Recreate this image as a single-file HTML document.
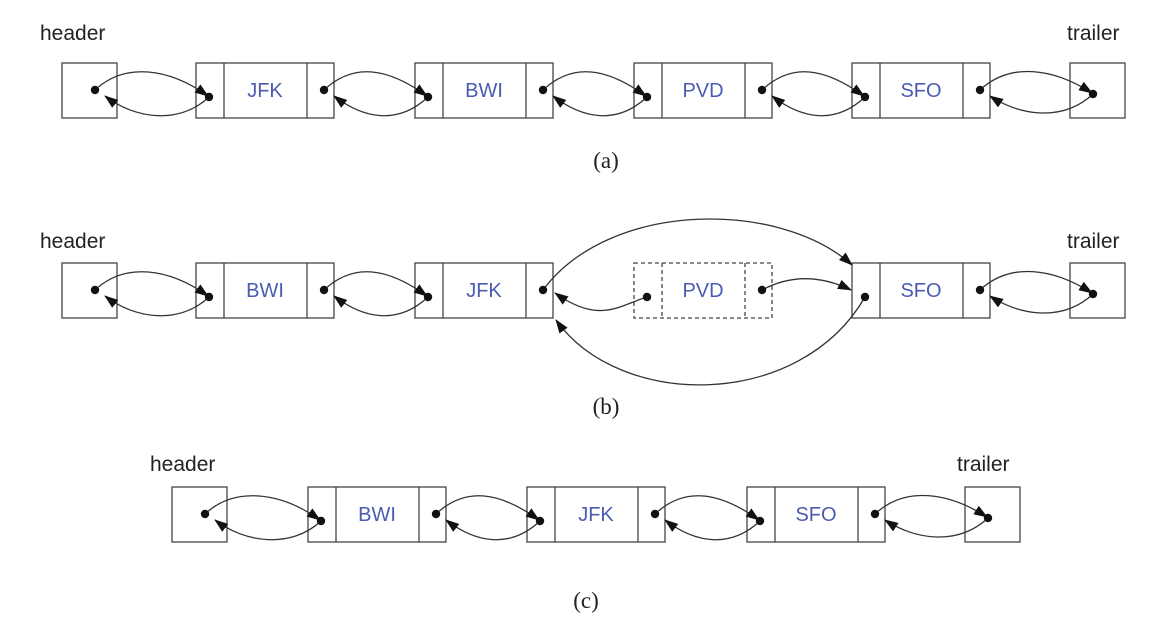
<!DOCTYPE html>
<html><head><meta charset="utf-8"><style>
html,body{margin:0;padding:0;background:#fff;width:1160px;height:644px;overflow:hidden}
svg text{font-family:"Liberation Sans",sans-serif}
svg text.cap{font-family:"Liberation Serif",serif}
</style></head><body>
<svg id="s" width="1160" height="644" xmlns="http://www.w3.org/2000/svg">
<defs><marker id="ah" markerWidth="14" markerHeight="10" refX="13" refY="5" orient="auto" markerUnits="userSpaceOnUse"><path d="M0,0 L14,5 L0,10 z" fill="#111"/></marker></defs>
<g id="g" fill="none" stroke="#444" stroke-width="1.3"></g>
<text x="40" y="40" font-size="21" fill="#222">header</text>
<text x="1067" y="40" font-size="21" fill="#222">trailer</text>
<text x="40" y="248" font-size="21" fill="#222">header</text>
<text x="1067" y="248" font-size="21" fill="#222">trailer</text>
<text x="150" y="471" font-size="21" fill="#222">header</text>
<text x="957" y="471" font-size="21" fill="#222">trailer</text>
<text class="cap" x="606" y="168" font-size="23" fill="#222" text-anchor="middle" style="font-family:'Liberation Serif',serif">(a)</text>
<text class="cap" x="606" y="414" font-size="23" fill="#222" text-anchor="middle" style="font-family:'Liberation Serif',serif">(b)</text>
<text class="cap" x="586" y="608" font-size="23" fill="#222" text-anchor="middle" style="font-family:'Liberation Serif',serif">(c)</text>
</svg>
<script>
var g=document.getElementById('g'),s=document.getElementById('s'),NS="http://www.w3.org/2000/svg";
function el(t,a,p){var e=document.createElementNS(NS,t);for(var k in a)e.setAttribute(k,a[k]);(p||g).appendChild(e);return e;}
function dot(x,y){el('circle',{cx:x,cy:y,r:4.2,fill:'#111',stroke:'none'},s);}
function box(x,y,w,h,d){el('rect',{x:x,y:y,width:w,height:h,'stroke-dasharray':d?'4,3':''});}
function txt(x,y,t){var e=el('text',{x:x,y:y,'font-size':20,fill:'#4a5bb0','text-anchor':'middle'},s);e.textContent=t;}
function arr(d){el('path',{d:d,stroke:'#333','marker-end':'url(#ah)'});}
function row(y,hx,nodes,tx,dashIdx){
  var h=55;
  box(hx,y,55,h);dot(hx+33,y+27);
  box(tx,y,55,h);dot(tx+23,y+31);
  nodes.forEach(function(n,i){var x=n[0],d=(i===dashIdx);
    box(x,y,138,h,d);el('line',{x1:x+28,y1:y,x2:x+28,y2:y+h,'stroke-dasharray':d?'4,3':''});
    el('line',{x1:x+111,y1:y,x2:x+111,y2:y+h,'stroke-dasharray':d?'4,3':''});
    txt(x+69,y+34,n[1]);dot(x+13,y+34);dot(x+128,y+27);});
}
function link(ax,ay,bx,by){
  arr('M'+ax+','+ay+' C'+(ax+30)+','+(ay-28)+' '+(bx-40)+','+(ay-22)+' '+(bx-1)+','+(by-1));
  arr('M'+bx+','+by+' C'+(bx-30)+','+(by+28)+' '+(ax+40)+','+(by+22)+' '+(ax+10)+','+(ay+6));
}
function chain(y,hx,nodes,tx,skip){
  var pts=[[hx+33,y+27]];nodes.forEach(function(n){pts.push([n[0]+13,y+34],[n[0]+128,y+27]);});pts.push([tx+23,y+31]);
  for(var i=0;i<pts.length;i+=2){ if(skip&&skip(i))continue; link(pts[i][0],pts[i][1],pts[i+1][0],pts[i+1][1]);}
}
var A=[[196,'JFK'],[415,'BWI'],[634,'PVD'],[852,'SFO']];
row(63,62,A,1070);chain(63,62,A,1070);
var B=[[196,'BWI'],[415,'JFK'],[634,'PVD'],[852,'SFO']];
row(263,62,B,1070,2);
chain(263,62,B,1070,function(i){return i==4||i==6;});
arr('M543,290 C610,200 780,200 852,265');
arr('M865,297 C800,410 620,410 556,320');
arr('M647,297 C620,305 600,325 555,293');
arr('M762,290 C790,275 820,275 851,290');
var C=[[308,'BWI'],[527,'JFK'],[747,'SFO']];
row(487,172,C,965);chain(487,172,C,965);
</script>
</body></html>
